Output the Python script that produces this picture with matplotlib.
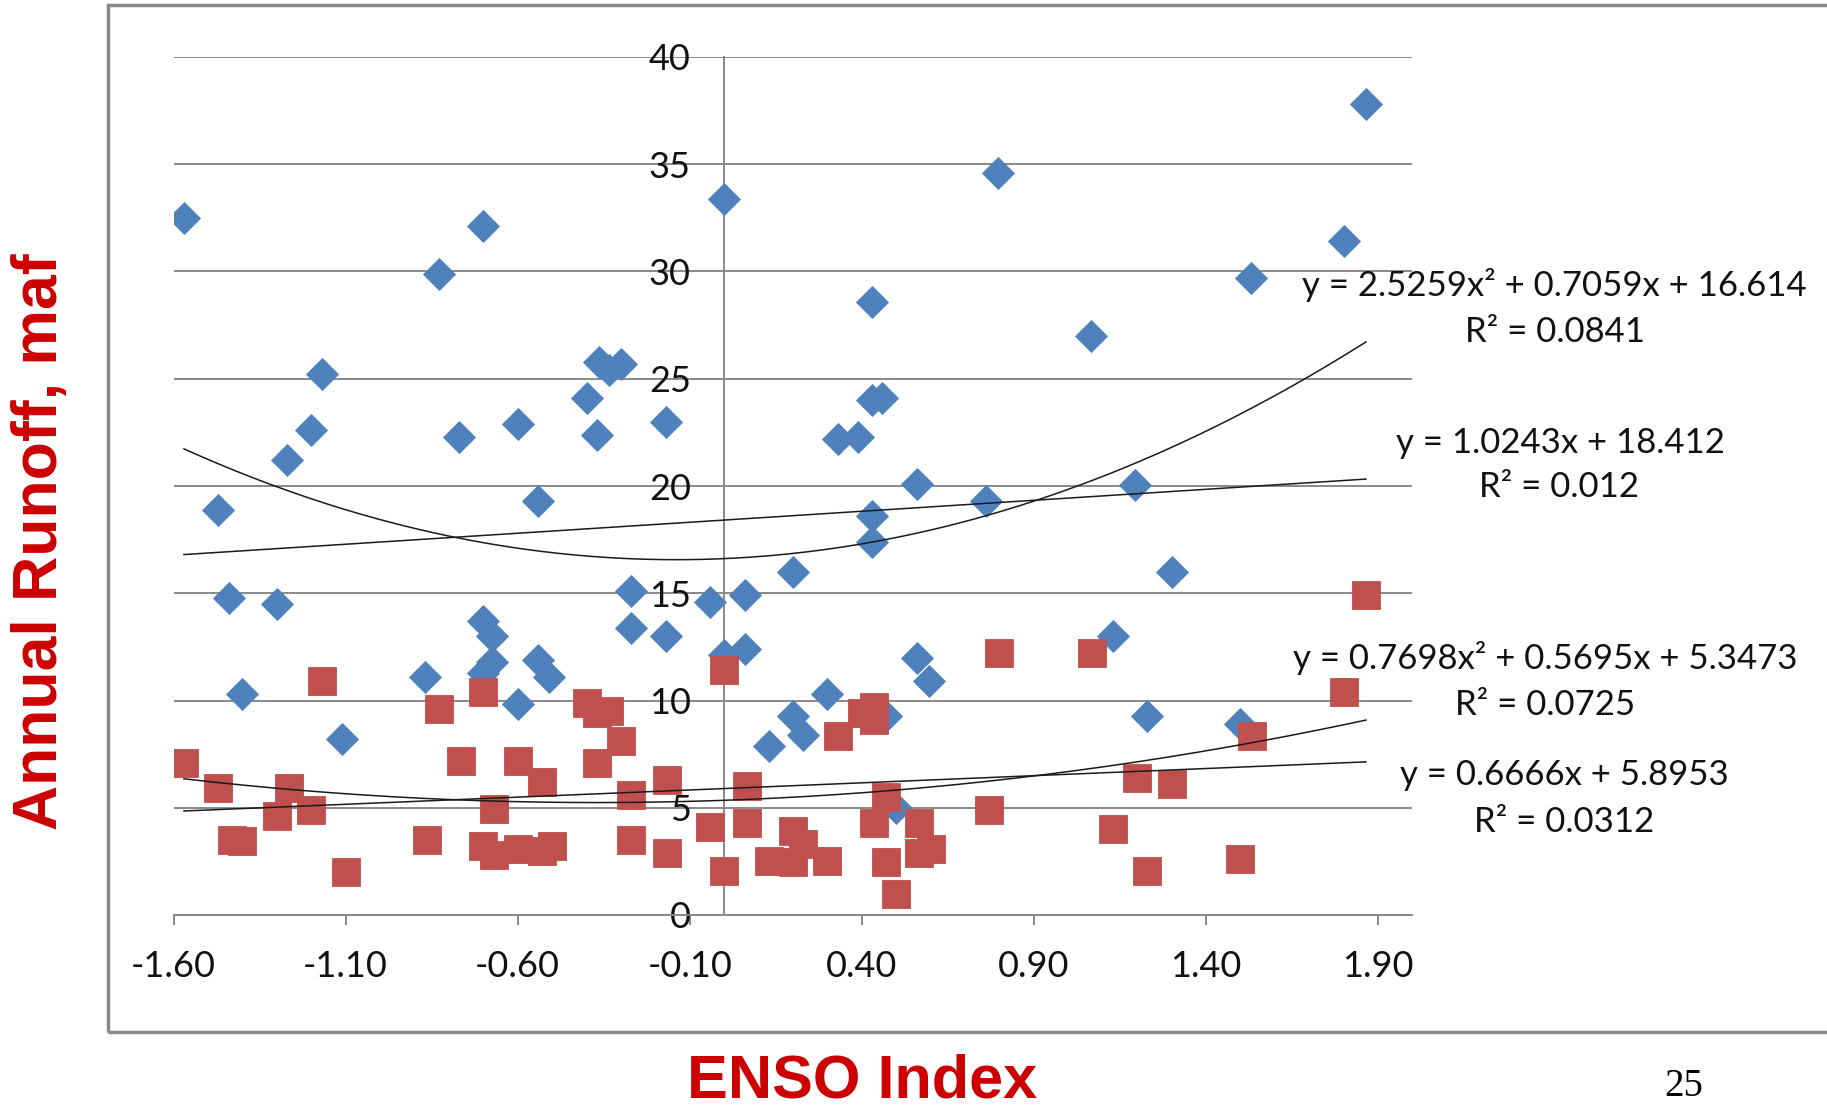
import matplotlib
matplotlib.use("Agg")
import matplotlib.pyplot as plt
import numpy as np
from matplotlib.patches import Rectangle

# ---------------- data ----------------
blue_x = [-1.57, -0.70, -0.83, 0.00, -1.17, -1.20, -1.27, -0.77, -0.60, -0.40,
          -0.365, -0.335, -0.30, -0.37, -0.17,
          0.795, 1.865, 1.80, 1.53, 0.43, 1.065, 0.43, 0.46, 0.33, 0.39,
          -1.47, -0.54, -1.44, -1.30, -1.40, -1.11, -0.87, -0.70, -0.675, -0.675,
          -0.70, -0.60, -0.54, -0.51, -0.27, -0.27, -0.17, -0.04, 0.00,
          0.06, 0.06, 0.20, 0.56, 0.76, 0.43, 0.43, 1.195, 1.30, 1.13,
          0.56, 0.595, 0.30, 0.20, 0.23, 0.13, 0.47, 1.23, 1.50, 0.50]
blue_y = [32.5, 32.1, 29.9, 33.4, 25.2, 22.6, 21.2, 22.3, 22.9, 24.1,
          25.8, 25.4, 25.7, 22.4, 23.0,
          34.6, 37.8, 31.4, 29.7, 28.6, 27.0, 24.0, 24.1, 22.2, 22.3,
          18.9, 19.3, 14.8, 14.5, 10.3, 8.2, 11.1, 13.7, 13.0, 11.8,
          11.3, 9.85, 11.9, 11.1, 15.1, 13.4, 13.0, 14.6, 12.1,
          14.9, 12.4, 16.0, 20.1, 19.3, 18.6, 17.4, 20.05, 16.0, 13.0,
          12.0, 10.9, 10.3, 9.3, 8.4, 7.9, 9.3, 9.3, 8.9, 5.0]

red_x = [-1.57, -1.47, -1.43, -1.40, -1.30, -1.265, -1.20, -1.17, -1.10, -0.83,
         -0.865, -0.765, -0.70, -0.67, -0.70, -0.67, -0.60, -0.60, -0.53, -0.53,
         -0.50, -0.40, -0.37, -0.335, -0.30, -0.37, -0.27, -0.27, -0.165, -0.165,
         -0.04, 0.00, 0.00,
         0.065, 0.065, 0.13, 0.20, 0.20, 0.23, 0.30, 0.33, 0.40, 0.435,
         0.435, 0.47, 0.435, 0.47, 0.50, 0.565, 0.565, 0.60, 0.77, 0.80,
         1.07, 1.13, 1.20, 1.23, 1.30, 1.50, 1.535, 1.80, 1.865]
red_y = [7.1, 5.9, 3.5, 3.45, 4.6, 5.9, 4.9, 10.9, 2.0, 9.6,
         3.5, 7.2, 10.4, 4.95, 3.2, 2.8, 7.2, 3.1, 6.2, 3.0,
         3.2, 9.9, 9.4, 9.5, 8.1, 7.1, 5.6, 3.5, 6.3, 2.9,
         4.1, 2.05, 11.4,
         6.0, 4.3, 2.5, 3.9, 2.45, 3.3, 2.5, 8.35, 9.4, 9.7,
         9.1, 5.5, 4.3, 2.45, 1.0, 4.3, 2.9, 3.1, 4.9, 12.2,
         12.2, 4.0, 6.4, 2.05, 6.1, 2.6, 8.35, 10.4, 14.9]

# trendline coefficients (as printed on the chart)
blue_poly = [2.5259, 0.7059, 16.614]
blue_lin = [1.0243, 18.412]
red_poly = [0.7698, 0.5695, 5.3473]
red_lin = [0.6666, 5.8953]

x_ticks = [-1.6, -1.1, -0.6, -0.1, 0.4, 0.9, 1.4, 1.9]
x_tick_labels = ["-1.60", "-1.10", "-0.60", "-0.10", "0.40", "0.90", "1.40", "1.90"]
y_ticks = [0, 5, 10, 15, 20, 25, 30, 35, 40]

eq_texts = ["y = 2.5259x² + 0.7059x + 16.614", "R² = 0.0841",
            "y = 1.0243x + 18.412", "R² = 0.012",
            "y = 0.7698x² + 0.5695x + 5.3473", "R² = 0.0725",
            "y = 0.6666x + 5.8953", "R² = 0.0312"]

# ---------------- figure ----------------
W, H = 1827, 1112
fig = plt.figure(figsize=(W / 100, H / 100), dpi=100)
fig.patch.set_facecolor("white")

def fx(px):
    return px / W

def fy(py):
    return 1 - py / H

left, right, top, bottom = 173.6, 1412.4, 57, 915
ax = fig.add_axes([fx(left), fy(bottom), fx(right) - fx(left), fy(top) - fy(bottom)])
ax.set_xlim(-1.6, 2.0)
ax.set_ylim(0, 40)

grid_c = "#898989"
blue_c = "#4F81BD"
red_c = "#C0504D"

ax.yaxis.grid(True, color=grid_c, lw=1.4)
ax.set_axisbelow(True)

for s in ["top", "right"]:
    ax.spines[s].set_visible(False)
ax.spines["left"].set_position(("data", 0))
ax.spines["left"].set_color(grid_c)
ax.spines["left"].set_linewidth(1.4)
ax.spines["bottom"].set_color(grid_c)
ax.spines["bottom"].set_linewidth(1.4)

ax.plot(blue_x, blue_y, ls="none", marker="D", ms=16, mfc=blue_c, mec=blue_c, mew=0.6, zorder=3)
ax.plot(red_x, red_y, ls="none", marker="s", ms=20, mfc=red_c, mec=red_c, mew=0.6, zorder=4)

# trendlines from the printed coefficients
bx = np.linspace(min(blue_x), max(blue_x), 200)
rx = np.linspace(min(red_x), max(red_x), 200)
ax.plot(bx, np.polyval(blue_poly, bx), color="#1a1a1a", lw=1.1, zorder=5)
ax.plot(bx, np.polyval(blue_lin, bx), color="#1a1a1a", lw=1.1, zorder=5)
ax.plot(rx, np.polyval(red_poly, rx), color="#1a1a1a", lw=1.1, zorder=5)
ax.plot(rx, np.polyval(red_lin, rx), color="#1a1a1a", lw=1.1, zorder=5)

tick_font = "Lato"
ax.set_xticks(x_ticks)
ax.set_xticklabels(x_tick_labels, fontsize=26, family=tick_font, color="#111111")
ax.set_yticks(y_ticks)
ax.set_yticklabels([str(v) for v in y_ticks], fontsize=26, family=tick_font, color="#111111")
ax.tick_params(axis="x", direction="out", length=7, width=1.4, color=grid_c, pad=18)
ax.tick_params(axis="y", length=0, pad=24)

# equation labels
eq_pos = [(1554, 285), (1555, 332), (1560, 443), (1559, 487),
          (1545, 658), (1545, 705), (1564, 775), (1564, 822)]
for t, (px, py) in zip(eq_texts, eq_pos):
    fig.text(fx(px), fy(py), t, fontsize=25, family=tick_font, color="#111111",
             ha="center", va="center")

# outer frame
fig.patches.append(Rectangle((fx(108), fy(1032)), 1.2, fy(5) - fy(1032),
                             transform=fig.transFigure, fill=False,
                             ec="#8a8a8a", lw=2.5, clip_on=False))

title_c = "#CC0000"
fig.text(fx(41), fy(542), "Annual Runoff, maf", rotation=90, fontsize=45,
         fontweight="bold", family="Liberation Sans", color=title_c,
         ha="center", va="center")
fig.text(fx(862), fy(1097), "ENSO Index", fontsize=44, fontweight="bold",
         family="Liberation Sans", color=title_c, ha="center", va="baseline")
fig.text(fx(1684), fy(1086), "25", fontsize=28, family="Liberation Serif",
         color="black", ha="center", va="center")

fig.savefig("out.png", dpi=100, facecolor="white")
